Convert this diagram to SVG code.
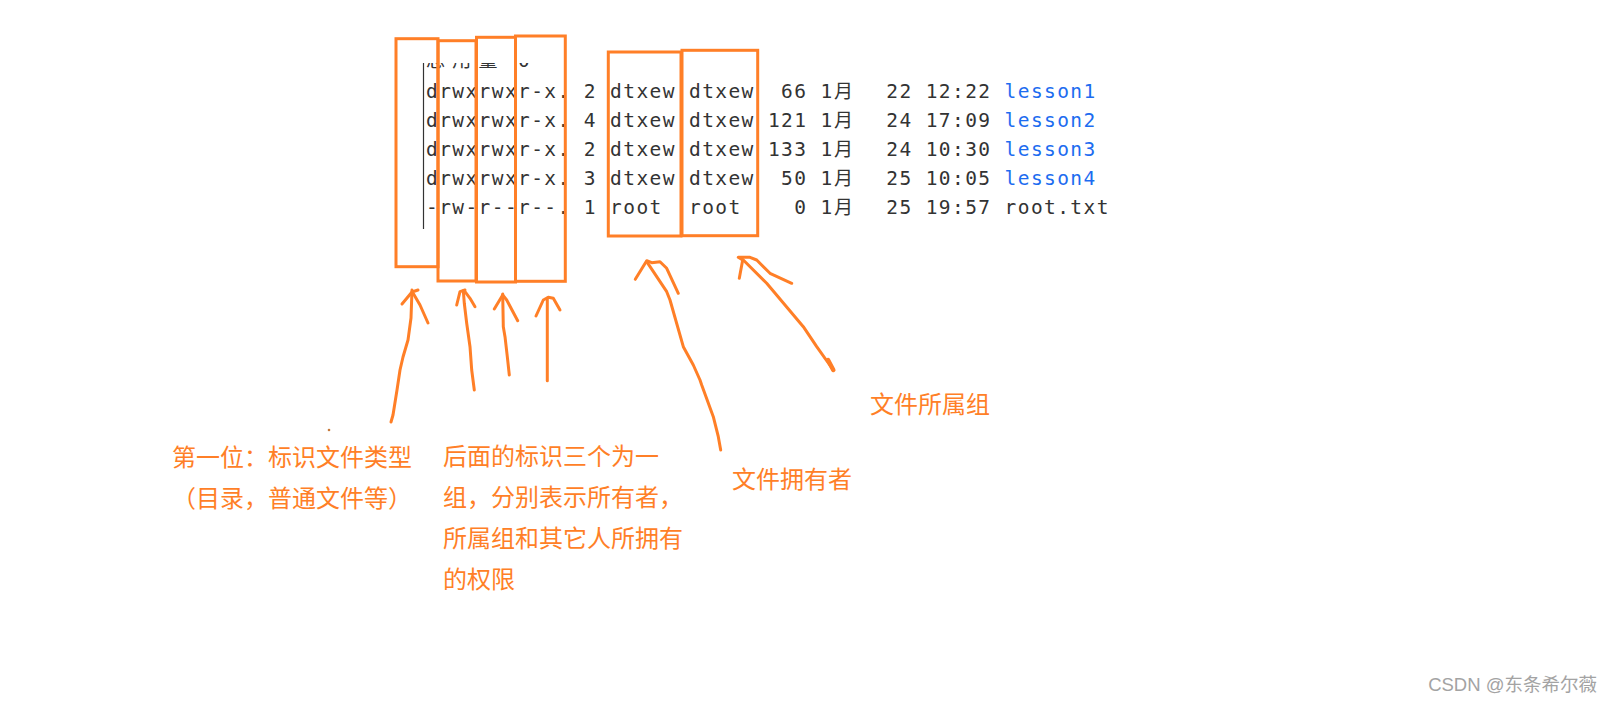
<svg xmlns="http://www.w3.org/2000/svg" width="1612" height="706" viewBox="0 0 1612 706">
<style>
.box{fill:none;stroke:#ff7f27;stroke-width:3}
.arr{fill:none;stroke:#ff7f27;stroke-width:3;stroke-linecap:round;stroke-linejoin:round}
.term{font-family:"DejaVu Sans Mono","Liberation Mono",monospace;font-size:19.5px;fill:#333;letter-spacing:1.41px}
.cjkt{font-family:"Noto Sans CJK SC",sans-serif;font-size:19px;fill:#333;letter-spacing:0}
.blue{fill:#1d6cf0}
.note{font-family:"Noto Sans CJK SC","Noto Sans CJK JP",sans-serif;font-size:24px;fill:#ff7f27}
.wm{font-family:"Liberation Sans","Noto Sans CJK SC",sans-serif;font-size:18.5px;fill:#a3a3a3}
</style>
<defs>
<clipPath id="clipTop"><rect x="400" y="63" width="200" height="9"/></clipPath>
</defs>
<rect width="1612" height="706" fill="#fff"/>

<g id="terminal">
  <line x1="423.5" y1="63" x2="423.5" y2="229" stroke="#333" stroke-width="1.2"/>
  <text class="cjkt" clip-path="url(#clipTop)" y="67"><tspan x="426" style="letter-spacing:7.3px">总用量</tspan><tspan class="term" x="518">0</tspan></text>
  <text class="term" y="97.5"><tspan x="426">drwxrwxr-x.</tspan><tspan x="583.8">2</tspan><tspan x="610.1">dtxew</tspan><tspan x="689">dtxew</tspan><tspan x="781">66</tspan><tspan x="820.5">1</tspan><tspan class="cjkt" x="834">月</tspan><tspan x="886.3">22</tspan><tspan x="925.7">12:22</tspan><tspan class="blue" x="1004.6">lesson1</tspan></text>
  <text class="term" y="126.5"><tspan x="426">drwxrwxr-x.</tspan><tspan x="583.8">4</tspan><tspan x="610.1">dtxew</tspan><tspan x="689">dtxew</tspan><tspan x="767.9">121</tspan><tspan x="820.5">1</tspan><tspan class="cjkt" x="834">月</tspan><tspan x="886.3">24</tspan><tspan x="925.7">17:09</tspan><tspan class="blue" x="1004.6">lesson2</tspan></text>
  <text class="term" y="155.5"><tspan x="426">drwxrwxr-x.</tspan><tspan x="583.8">2</tspan><tspan x="610.1">dtxew</tspan><tspan x="689">dtxew</tspan><tspan x="767.9">133</tspan><tspan x="820.5">1</tspan><tspan class="cjkt" x="834">月</tspan><tspan x="886.3">24</tspan><tspan x="925.7">10:30</tspan><tspan class="blue" x="1004.6">lesson3</tspan></text>
  <text class="term" y="184.5"><tspan x="426">drwxrwxr-x.</tspan><tspan x="583.8">3</tspan><tspan x="610.1">dtxew</tspan><tspan x="689">dtxew</tspan><tspan x="781">50</tspan><tspan x="820.5">1</tspan><tspan class="cjkt" x="834">月</tspan><tspan x="886.3">25</tspan><tspan x="925.7">10:05</tspan><tspan class="blue" x="1004.6">lesson4</tspan></text>
  <text class="term" y="213.5"><tspan x="426">-rw-r--r--.</tspan><tspan x="583.8">1</tspan><tspan x="610.1">root</tspan><tspan x="689">root</tspan><tspan x="794.2">0</tspan><tspan x="820.5">1</tspan><tspan class="cjkt" x="834">月</tspan><tspan x="886.3">25</tspan><tspan x="925.7">19:57</tspan><tspan x="1004.6">root.txt</tspan></text>
</g>

<g id="box-type"><rect class="box" x="396" y="38.7" width="42" height="228"/></g>
<g id="box-user"><rect class="box" x="438" y="40.7" width="38" height="240.3"/></g>
<g id="box-group-perm"><rect class="box" x="476.5" y="37.3" width="39" height="244.7"/></g>
<g id="box-other"><rect class="box" x="515.5" y="36" width="49.8" height="245.3"/></g>
<g id="box-owner"><rect class="box" x="608.3" y="52" width="72.7" height="184"/></g>
<g id="box-groupname"><rect class="box" x="682" y="50.3" width="75.7" height="185.4"/></g>

<g id="connectors">
  <path class="arr" d="M391,422 L393,415 L397,390 L400,370 L403,357 L408,340 L411,318 L412,290"/>
  <path class="arr" d="M402,304 L412,292 L418,290 M413,293 L420,305 L428,323"/>
  <path class="arr" d="M474.3,390 L471.7,370 L470,346.7 L466.7,323.3 L464.3,303.3 L463.3,290.7"/>
  <path class="arr" d="M456.7,305 L460,291.7 L465,290 M465,291.7 L470,298.3 L475,306.7"/>
  <path class="arr" d="M509.3,375 L507.3,356.7 L505,336.7 L503.3,326.7 L502.7,294"/>
  <path class="arr" d="M494.3,309 L502.7,295 L506.7,300 L517.7,320.7"/>
  <path class="arr" d="M547.3,380.7 L547.3,298"/>
  <path class="arr" d="M536,316 L543.3,300 L548.3,297.3 L553.3,298.3 L560,310"/>
  <path class="arr" d="M720.7,450 L718.3,436.7 L713.3,416.7 L701.7,385 L700,380 L693.3,365 L683.3,346.7 L670,300 L666.7,291.7 L646.7,261.7"/>
  <path class="arr" d="M635.3,279.3 L646.7,260.7 L651.7,262.7 L660,261.7 L666.7,268.3 L678.3,293.3"/>
  <path class="arr" d="M833.3,370 L816.7,346.7 L803.3,326.7 L766.7,283.3 L743.3,260"/>
  <path class="arr" d="M828,360 L833.3,370" style="stroke-width:4.5"/>
  <path class="arr" d="M739.3,278.3 L742.7,260 L738.3,257.3 L750,257.3 L756.7,260 L770,273.3 L791.7,283.3"/>
  <circle cx="329" cy="430" r="1.3" fill="#c77a3a"/>
</g>

<g id="label-type">
  <text class="note" x="172" y="466">第一位：标识文件类型</text>
  <text class="note" x="172" y="506.5">（目录，普通文件等）</text>
</g>
<g id="label-perm">
  <text class="note" x="443" y="464.5">后面的标识三个为一</text>
  <text class="note" x="443" y="505.5">组，分别表示所有者，</text>
  <text class="note" x="443" y="546.5">所属组和其它人所拥有</text>
  <text class="note" x="443" y="587.5">的权限</text>
</g>
<g id="label-owner"><text class="note" x="732" y="488">文件拥有者</text></g>
<g id="label-group"><text class="note" x="870" y="413">文件所属组</text></g>

<text class="wm" x="1597" y="691" text-anchor="end">CSDN @东条希尔薇</text>
</svg>
